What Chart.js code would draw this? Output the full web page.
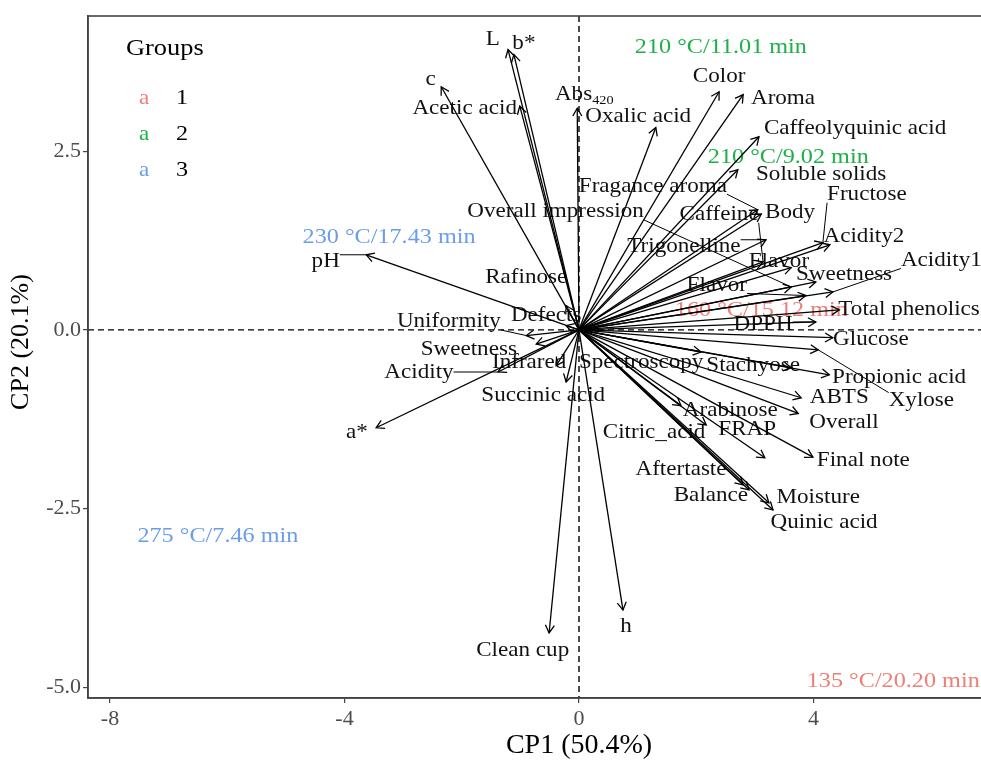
<!DOCTYPE html>
<html>
<head>
<meta charset="utf-8">
<script src="https://cdn.jsdelivr.net/npm/chart.js@4.4.0/dist/chart.umd.min.js"></script>
<style>
  html, body { margin: 0; padding: 0; background: #ffffff; overflow: hidden; }
  #wrap { width: 981px; height: 762px; overflow: hidden; }
</style>
</head>
<body>
<div id="wrap"><canvas id="biplot" width="1072" height="762"></canvas></div>
<script>
// Variable loadings on the first two principal components
const variables = [
  'L', 'b*', 'c', 'Acetic acid', 'Abs₄₂₀', 'Oxalic acid', 'Color', 'Aroma',
  'Caffeolyquinic acid', 'Soluble solids', 'Fragance aroma', 'Body', 'Caffeine',
  'Trigonelline', 'Flavor', 'Fructose', 'Acidity2', 'Acidity1', 'Sweetness',
  'Flavor', 'Total phenolics', 'DPPH', 'Glucose', 'Xylose', 'Stachyose',
  'Propionic acid', 'ABTS', 'Overall', 'Arabinose', 'FRAP', 'Final note',
  'Citric_acid', 'Aftertaste', 'Balance', 'Moisture', 'Quinic acid',
  'Spectroscopy', 'Infrared', 'Succinic acid', 'Clean cup', 'h', 'a*',
  'Acidity', 'Sweetness', 'Uniformity', 'Defects', 'Rafinose', 'pH',
  'Overall impression'
];
const loadCP1 = [
  -1.21, -1.11, -2.35, -1.01, -0.03, 1.31, 2.39, 2.80,
  3.07, 2.71, 3.05, 3.11, 3.14,
  3.19, 3.62, 4.16, 4.28, 4.33, 4.04,
  3.87, 4.44, 4.04, 4.33, 4.08, 3.62,
  4.27, 3.79, 3.74, 1.74, 3.17, 3.99,
  2.17, 2.80, 2.90, 3.24, 3.31,
  2.08, -0.39, -0.22, -0.51, 0.75, -3.46,
  -1.38, -0.73, -0.90, -0.22, -0.22, -3.63,
  3.62
];
const loadCP2 = [
  3.92, 3.85, 3.40, 3.13, 3.10, 2.83, 3.33, 3.29,
  2.70, 2.24, 1.68, 1.62, 0.95,
  1.26, 0.87, 1.22, 1.19, 0.53, 0.67,
  0.48, 0.28, 0.11, -0.11, -0.28, -0.53,
  -0.63, -0.95, -1.17, -1.06, -1.79, -1.78,
  -1.33, -2.17, -2.24, -2.42, -2.52,
  -0.31, -0.50, -0.73, -4.24, -3.92, -1.37,
  -0.59, -0.20, -0.08, 0.06, 0.34, 1.05,
  0.60
];
// Repelled label anchors (CP units)
const labelCP1 = [
  -1.47, -0.94, -2.53, -1.95, 0.09, 1.01, 2.39, 3.48,
  4.71, 4.13, 1.26, 3.60, 2.39,
  1.79, 3.41, 4.91, 4.86, 6.18, 4.52,
  2.35, 5.63, 3.14, 4.98, 5.84, 2.97,
  5.46, 4.44, 4.52, 2.58, 2.87, 4.85,
  1.28, 1.74, 2.25, 4.08, 4.18,
  1.06, -0.85, -0.61, -0.96, 0.80, -3.79,
  -2.73, -1.88, -2.22, -0.56, -0.90, -4.32,
  -0.40
];
const labelCP2 = [
  4.06, 4.00, 3.50, 3.10, 3.29, 2.99, 3.54, 3.24,
  2.81, 2.18, 2.01, 1.64, 1.61,
  1.17, 0.95, 1.89, 1.30, 0.97, 0.77,
  0.62, 0.29, 0.07, -0.14, -0.99, -0.50,
  -0.66, -0.95, -1.30, -1.13, -1.40, -1.83,
  -1.44, -1.96, -2.32, -2.35, -2.69,
  -0.45, -0.45, -0.92, -4.49, -4.15, -1.43,
  -0.60, -0.27, 0.11, 0.20, 0.73, 0.95,
  1.65
];

// Sample scores (roasting conditions) and their groups
const samples = ['210 °C/11.01 min', '210 °C/9.02 min', '230 °C/17.43 min',
                 '275 °C/7.46 min', '135 °C/20.20 min', '160 °C/15.12 min'];
const sampleGroup = [2, 2, 3, 3, 1, 1];
const sampleCP1 = [2.42, 3.57, -3.24, -6.16, 5.36, 3.11];
const sampleCP2 = [3.96, 2.42, 1.29, -2.88, -4.91, 0.28];

const groups = ['1', '2', '3'];
const xTicks = [-8, -4, 0, 4, 8];
const xTickLabels = ['-8', '-4', '0', '4', '8'];
const yTicks = [-5, -2.5, 0, 2.5];
const yTickLabels = ['-5.0', '-2.5', '0.0', '2.5'];
const yTitle = 'CP2 (20.1%)';

const groupColor = { 1: '#EE7E76', 2: '#1DB047', 3: '#6A9DEB' };
const SERIF = '"Liberation Serif", "DejaVu Serif", serif';
const STRETCH = 1.1;
const subDigits = { '₀': '0', '₁': '1', '₂': '2', '₃': '3', '₄': '4', '₅': '5', '₆': '6', '₇': '7', '₈': '8', '₉': '9' };

function splitSub(text) {
  let main = '', sub = '';
  for (const ch of text) {
    if (subDigits[ch] !== undefined) sub += subDigits[ch]; else main += ch;
  }
  return { main, sub };
}

function measureLabel(ctx, text, size) {
  const { main, sub } = splitSub(text);
  ctx.font = size + 'px ' + SERIF;
  let w = ctx.measureText(main).width;
  if (sub) { ctx.font = Math.round(size * 0.62) + 'px ' + SERIF; w += ctx.measureText(sub).width; }
  return w * STRETCH;
}

// text drawn slightly widened, centred on (cx, cy)
function drawLabel(ctx, text, cx, cy, size, color, align) {
  const { main, sub } = splitSub(text);
  const w = measureLabel(ctx, text, size);
  const x0 = align === 'left' ? cx : cx - w / 2;
  ctx.save();
  ctx.translate(x0, cy);
  ctx.scale(STRETCH, 1);
  ctx.fillStyle = color;
  ctx.textAlign = 'left';
  ctx.textBaseline = 'middle';
  ctx.font = size + 'px ' + SERIF;
  ctx.fillText(main, 0, 0);
  if (sub) {
    const mw = ctx.measureText(main).width;
    ctx.font = Math.round(size * 0.62) + 'px ' + SERIF;
    ctx.fillText(sub, mw, size * 0.3);
  }
  ctx.restore();
  return w;
}

const biplotPlugin = {
  id: 'biplot',
  beforeDatasetsDraw(chart) {
    const { ctx, chartArea: a, scales: { x, y } } = chart;

    // vertical axis title
    ctx.save();
    ctx.translate(21, 342);
    ctx.rotate(-Math.PI / 2);
    ctx.fillStyle = '#000';
    ctx.font = '26px ' + SERIF;
    ctx.textAlign = 'center';
    ctx.textBaseline = 'middle';
    ctx.fillText(yTitle, 0, 0);
    ctx.restore();

    ctx.save();
    ctx.beginPath();
    ctx.rect(a.left, a.top, a.right - a.left, a.bottom - a.top);
    ctx.clip();

    // dashed reference lines through the origin
    ctx.strokeStyle = '#000';
    ctx.lineWidth = 1.4;
    ctx.setLineDash([6, 4]);
    ctx.beginPath();
    ctx.moveTo(x.getPixelForValue(0), a.top);
    ctx.lineTo(x.getPixelForValue(0), a.bottom);
    ctx.moveTo(a.left, y.getPixelForValue(0));
    ctx.lineTo(a.right, y.getPixelForValue(0));
    ctx.stroke();
    ctx.setLineDash([]);

    // sample labels
    samples.forEach((s, i) => {
      drawLabel(ctx, s, x.getPixelForValue(sampleCP1[i]), y.getPixelForValue(sampleCP2[i]), 22, groupColor[sampleGroup[i]]);
    });

    // variable labels with leader segments
    const size = 21;
    variables.forEach((v, i) => {
      const lx = x.getPixelForValue(labelCP1[i]);
      const ly = y.getPixelForValue(labelCP2[i]);
      const tx = x.getPixelForValue(loadCP1[i]);
      const ty = y.getPixelForValue(loadCP2[i]);
      const w = measureLabel(ctx, v, size);
      const h = 16;
      const cx = Math.min(Math.max(tx, lx - w / 2), lx + w / 2);
      const cy = Math.min(Math.max(ty, ly - h / 2), ly + h / 2);
      if (Math.hypot(tx - cx, ty - cy) > 20) {
        ctx.strokeStyle = '#000';
        ctx.lineWidth = 1;
        ctx.beginPath();
        ctx.moveTo(cx, cy);
        ctx.lineTo(tx, ty);
        ctx.stroke();
      }
      drawLabel(ctx, v, lx, ly, size, '#111');
    });

    // legend
    const lx0 = a.left + 38, ly0 = a.top + 33;
    drawLabel(ctx, 'Groups', lx0, ly0, 24, '#000', 'left');
    groups.forEach((g, i) => {
      const yy = ly0 + 49 + i * 36;
      drawLabel(ctx, 'a', lx0 + 13, yy, 21, groupColor[g], 'left');
      drawLabel(ctx, g, lx0 + 50, yy, 22, '#000', 'left');
    });
    ctx.restore();
  },
  afterDatasetsDraw(chart) {
    const { ctx, chartArea: a, scales: { x, y } } = chart;
    ctx.save();
    ctx.beginPath();
    ctx.rect(a.left, a.top, a.right - a.left, a.bottom - a.top);
    ctx.clip();
    const ox = x.getPixelForValue(0), oy = y.getPixelForValue(0);
    ctx.strokeStyle = '#000';
    ctx.lineWidth = 1.3;
    variables.forEach((v, i) => {
      const tx = x.getPixelForValue(loadCP1[i]);
      const ty = y.getPixelForValue(loadCP2[i]);
      const ang = Math.atan2(ty - oy, tx - ox);
      const len = 9, spread = Math.PI / 6;
      ctx.beginPath();
      ctx.moveTo(tx - len * Math.cos(ang - spread), ty - len * Math.sin(ang - spread));
      ctx.lineTo(tx, ty);
      ctx.lineTo(tx - len * Math.cos(ang + spread), ty - len * Math.sin(ang + spread));
      ctx.stroke();
    });
    ctx.restore();

    // panel frame
    ctx.save();
    ctx.strokeStyle = '#444';
    ctx.lineWidth = 1.6;
    ctx.strokeRect(a.left, a.top, a.right - a.left, a.bottom - a.top);
    ctx.restore();
  }
};

const arrowSets = variables.map((v, i) => ({
  label: v,
  data: [{ x: 0, y: 0 }, { x: loadCP1[i], y: loadCP2[i] }],
  showLine: true,
  borderColor: '#000',
  borderWidth: 1.3,
  pointRadius: 0,
  pointHoverRadius: 0,
  fill: false,
  tension: 0
}));

const tickFont = { family: SERIF, size: 22 };

new Chart(document.getElementById('biplot'), {
  type: 'scatter',
  data: { datasets: arrowSets },
  options: {
    responsive: false,
    animation: false,
    events: [],
    layout: { padding: { top: 16, right: 2, left: 0, bottom: 0 } },
    plugins: { legend: { display: false }, tooltip: { enabled: false } },
    scales: {
      x: {
        type: 'linear',
        min: -8.375,
        max: 8.375,
        afterBuildTicks: s => { s.ticks = xTicks.map(v => ({ value: v })); },
        afterFit: s => { s.height = 64; },
        ticks: {
          callback: v => xTickLabels[xTicks.indexOf(v)],
          color: '#4d4d4d', font: tickFont, padding: 3, maxRotation: 0, autoSkip: false
        },
        grid: { drawOnChartArea: false, drawTicks: true, tickLength: 5, color: '#444', lineWidth: 1.2 },
        border: { display: true, color: '#444', width: 1.6 },
        title: { display: true, text: 'CP1 (50.4%)', color: '#000', font: { family: SERIF, size: 28 }, padding: { top: 0, bottom: 0 } }
      },
      y: {
        type: 'linear',
        min: -5.15,
        max: 4.39,
        afterBuildTicks: s => { s.ticks = yTicks.map(v => ({ value: v })); },
        afterFit: s => { s.width = 88; },
        ticks: {
          callback: v => yTickLabels[yTicks.indexOf(v)],
          color: '#4d4d4d', font: tickFont, padding: 2, autoSkip: false
        },
        grid: { drawOnChartArea: false, drawTicks: true, tickLength: 5, color: '#444', lineWidth: 1.2 },
        border: { display: true, color: '#444', width: 1.6 },
        title: { display: false }
      }
    }
  },
  plugins: [biplotPlugin]
});
</script>
</body>
</html>
